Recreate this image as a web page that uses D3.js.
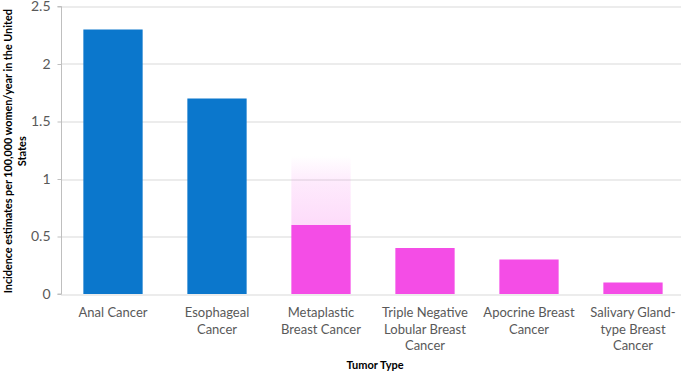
<!DOCTYPE html>
<html>
<head>
<meta charset="utf-8">
<script src="https://cdn.jsdelivr.net/npm/d3@7"></script>
<style>
  html, body { margin: 0; padding: 0; background: #fff; }
  svg { display: block; font-family: Lato, "Open Sans", sans-serif; }
</style>
</head>
<body>
<div id="chart"></div>
<script>
// ----------------------------------------------------------
// Data
// ----------------------------------------------------------
const categories = [
  ["Anal Cancer"],
  ["Esophageal", "Cancer"],
  ["Metaplastic", "Breast Cancer"],
  ["Triple Negative", "Lobular Breast", "Cancer"],
  ["Apocrine Breast", "Cancer"],
  ["Salivary Gland-", "type Breast", "Cancer"]
];
const values = [2.3, 1.7, 0.6, 0.4, 0.3, 0.1];
const groups = ["gi", "gi", "breast", "breast", "breast", "breast"];
// faded upper range drawn above the metaplastic bar
const rangeTop = [null, null, 1.2, null, null, null];
const yTicks = [0, 0.5, 1, 1.5, 2, 2.5];

const width = 685, height = 373;
const margin = { top: 6.5, right: 0, bottom: 79, left: 61 };
const innerWidth = width - margin.left - margin.right;
const innerHeight = height - margin.top - margin.bottom;

const colors = { gi: "#0B77CC", breast: "#F44DE6" };

const svg = d3.select("#chart").append("svg")
  .attr("width", width)
  .attr("height", height);

const defs = svg.append("defs");
const grad = defs.append("linearGradient")
  .attr("id", "fade")
  .attr("x1", 0).attr("y1", 1).attr("x2", 0).attr("y2", 0);
grad.append("stop").attr("offset", "0%").attr("stop-color", "#F44DE6").attr("stop-opacity", 0.2);
grad.append("stop").attr("offset", "60%").attr("stop-color", "#F44DE6").attr("stop-opacity", 0.12);
grad.append("stop").attr("offset", "100%").attr("stop-color", "#F44DE6").attr("stop-opacity", 0);

const g = svg.append("g")
  .attr("transform", `translate(${margin.left},${margin.top})`);

const x = d3.scaleBand()
  .domain(d3.range(categories.length))
  .range([0, innerWidth])
  .paddingInner(0.43)
  .paddingOuter(0.215);

const y = d3.scaleLinear()
  .domain([0, 2.5])
  .range([innerHeight, 0]);

// grid
g.append("g")
  .selectAll("line")
  .data(yTicks)
  .enter().append("line")
  .attr("x1", 0).attr("x2", innerWidth - 4)
  .attr("y1", d => Math.round(y(d)) + 0.5)
  .attr("y2", d => Math.round(y(d)) + 0.5)
  .attr("stroke", "#d9d9d9")
  .attr("stroke-width", 1);

// y axis
const yAxis = g.append("g")
  .attr("transform", "translate(0.5,0)")
  .call(d3.axisLeft(y).tickValues(yTicks).tickSize(4).tickPadding(7).tickFormat(d => d));
yAxis.select(".domain").attr("stroke", "#bfbfbf").attr("d", `M-4,${innerHeight}H0V0H-4`);
yAxis.selectAll(".tick line").attr("stroke", "#bfbfbf");
yAxis.selectAll(".tick text")
  .attr("fill", "#595959")
  .attr("font-size", 14)
  .attr("font-family", "Lato, sans-serif");

// range fade
g.selectAll(".fade")
  .data(values.map((v, i) => ({ v, i, top: rangeTop[i] })).filter(d => d.top !== null))
  .enter().append("rect")
  .attr("x", d => x(d.i))
  .attr("width", x.bandwidth())
  .attr("y", d => y(d.top))
  .attr("height", d => y(d.v) - y(d.top))
  .attr("fill", "url(#fade)");

// bars
g.selectAll(".bar")
  .data(values)
  .enter().append("rect")
  .attr("x", (d, i) => x(i))
  .attr("width", x.bandwidth())
  .attr("y", d => y(d))
  .attr("height", d => innerHeight - y(d))
  .attr("fill", (d, i) => colors[groups[i]]);

// category labels
const catG = g.append("g");
categories.forEach((lines, i) => {
  const t = catG.append("text")
    .attr("text-anchor", "middle")
    .attr("fill", "#595959")
    .attr("font-size", 13)
    .attr("font-family", "Lato, sans-serif");
  lines.forEach((ln, j) => {
    t.append("tspan")
      .attr("x", x(i) + x.bandwidth() / 2)
      .attr("y", innerHeight + 23 + j * 16.5)
      .text(ln);
  });
});

// axis titles
svg.append("text")
  .attr("x", margin.left + innerWidth / 2 + 2)
  .attr("y", 369)
  .attr("text-anchor", "middle")
  .attr("font-size", 11)
  .attr("font-weight", "bold")
  .attr("fill", "#000")
  .text("Tumor Type");

const yTitle = svg.append("text")
  .attr("transform", `translate(0,${margin.top + innerHeight / 2 + 1}) rotate(-90)`)
  .attr("text-anchor", "middle")
  .attr("font-size", 11)
  .attr("font-weight", "bold")
  .attr("fill", "#000");
yTitle.append("tspan").attr("x", 0).attr("y", 12)
  .attr("textLength", 284).attr("lengthAdjust", "spacingAndGlyphs")
  .text("Incidence estimates per 100,000 women/year in the United");
yTitle.append("tspan").attr("x", 0).attr("y", 26).text("States");
</script>
</body>
</html>
